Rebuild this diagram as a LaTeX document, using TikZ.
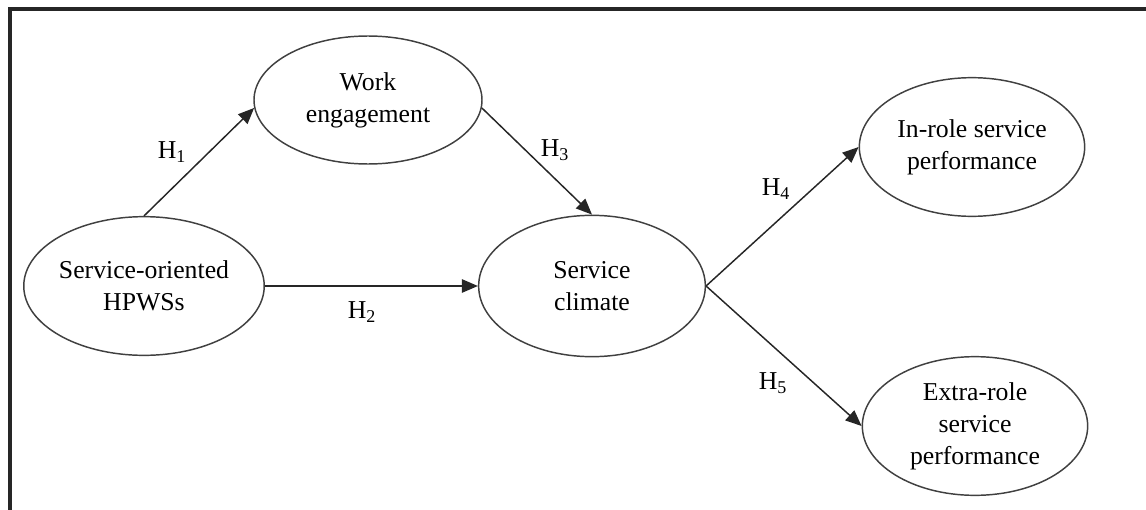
\documentclass[tikz,border=0pt]{standalone}
\usepackage{fontspec}
\setmainfont{Liberation Serif}
\usetikzlibrary{shapes.geometric,arrows.meta}
\begin{document}
\begin{tikzpicture}[x=0.75pt,y=-0.75pt,
  latent/.style={ellipse,draw=black!75,line width=1.1pt,inner sep=0pt,align=center,
    font=\fontsize{19.3}{24}\selectfont,text=black},
  link/.style={draw=black!85,line width=1.1pt,-{Triangle[length=12pt,width=10pt]}},
  hlab/.style={font=\fontsize{19.3}{24}\selectfont,inner sep=0pt}]
\useasboundingbox (0,0) rectangle (1146,510);
\draw[line width=2.4pt,black!85] (10,510) -- (10,9) -- (1146,9);
\node[latent,minimum width=171pt,minimum height=96pt] (we) at (368,100) {Work\\engagement};
\node[latent,minimum width=169pt,minimum height=104pt] (hp) at (144,286) {Service-oriented\\HPWSs};
\node[latent,minimum width=170pt,minimum height=106pt] (sc) at (592,286) {Service\\climate};
\node[latent,minimum width=169pt,minimum height=104pt] (ir) at (972,147) {In-role service\\performance};
\node[latent,minimum width=169pt,minimum height=104pt] (er) at (975,426) {Extra-role\\service\\performance};
\draw[link] (hp.north) -- (we.184);
\draw[link] (hp.east) -- (sc.west);
\draw[link] (we.356) -- (sc.north);
\draw[link] (sc.east) -- (ir.west);
\draw[link] (sc.east) -- (er.west);
\node[hlab] (h1) at (172,152) {H\textsubscript{1}};
\node[hlab] (h2) at (362,312) {H\textsubscript{2}};
\node[hlab] (h3) at (555,150) {H\textsubscript{3}};
\node[hlab] (h4) at (776,189) {H\textsubscript{4}};
\node[hlab] (h5) at (773,383) {H\textsubscript{5}};
\end{tikzpicture}
\end{document}
